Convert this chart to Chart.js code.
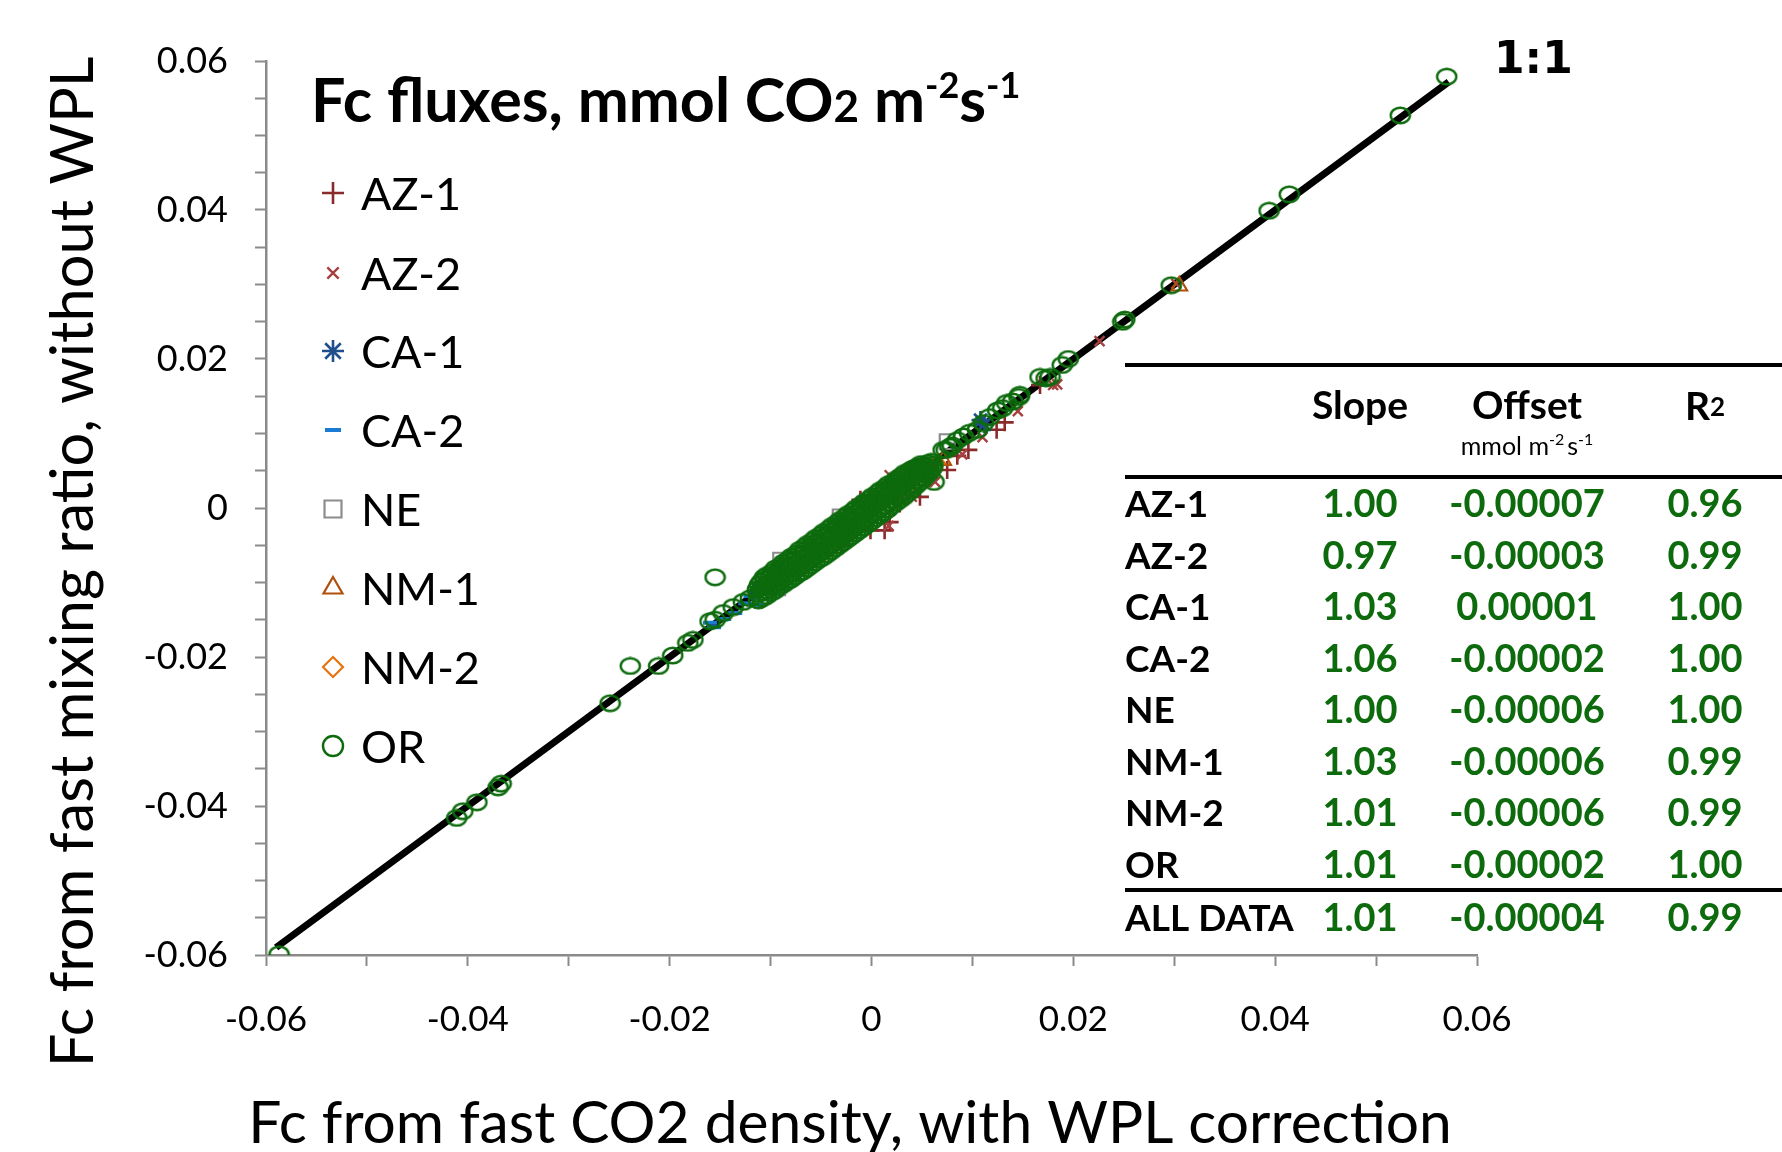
<!DOCTYPE html>
<html><head><meta charset="utf-8">
<script src="https://cdn.jsdelivr.net/npm/chart.js@4.4.1/dist/chart.umd.min.js"></script>
<style>html,body{margin:0;padding:0;background:#fff;} #wrap{width:1782px;height:1152px;position:relative;}</style>
</head><body><div id="wrap"><canvas id="c"></canvas></div>
<script>
// ---------- data ----------
const X_TICK_LABELS = ['-0.06','-0.04','-0.02','0','0.02','0.04','0.06'];
const Y_TICK_LABELS = ['-0.06','-0.04','-0.02','0','0.02','0.04','0.06'];
const ONE_TO_ONE = [-0.0590, 0.0572];

const AZ1 = [[-0.0029,-0.0050],[-0.0001,-0.0030],[0.0013,-0.0030],[-0.0008,0.0008],[0.0018,0.0034],[0.0035,0.0028],
  [0.0018,-0.0019],[0.0001,-0.0003],[-0.0011,0.0011],[0.0048,0.0015],[0.0075,0.0051],[0.0096,0.0078],[0.0124,0.0105],
  [0.0132,0.0115],[0.0167,0.0165],[-0.0050,-0.0062],[-0.0065,-0.0072],[0.0028,0.0006],[0.0058,0.0040],[0.0085,0.0070]];
const AZ2 = [[0.0226,0.0224],[0.0184,0.0166],[0.0302,0.0301],[0.0017,-0.0024],[0.0110,0.0095],[0.0145,0.0130],
  [0.0180,0.0165],[0.0040,0.0015],[-0.0020,-0.0035],[0.0063,0.0035],[0.0018,0.0044],[0.0090,0.0072],[-0.0040,-0.0046],[0.0030,0.0012]];
const CA1 = [[0.0108,0.0118],[0.0112,0.0112],[-0.0030,-0.0020],[-0.0090,-0.0088],[0.0050,0.0055],[-0.0060,-0.0054],[0.0000,0.0006],[-0.0115,-0.0112]];
const CA2 = [[-0.0160,-0.0154],[-0.0113,-0.0130],[-0.0146,-0.0149],[-0.0125,-0.0128],[-0.0135,-0.0141],[-0.0100,-0.0105],
  [-0.0050,-0.0050],[-0.0156,-0.0160],[-0.0120,-0.0118]];
const NE = [[-0.0090,-0.0070],[-0.0093,-0.0107],[-0.0031,-0.0012],[0.0075,0.0089],[-0.0050,-0.0046],[0.0020,0.0021],[-0.0075,-0.0081]];
const NM1 = [[0.0071,0.0064],[0.0060,0.0050],[0.0020,0.0015],[-0.0020,-0.0026],[0.0305,0.0298],[-0.0060,-0.0063]];
const NM2 = [[0.0065,0.0060],[0.0040,0.0035],[-0.0010,-0.0013],[-0.0070,-0.0068],[0.0052,0.0049]];
const OR = [
  [0.0570,0.0579],[0.0524,0.0527],[0.0414,0.0421],[0.0394,0.0399],[0.0297,0.0299],[0.0251,0.0253],[0.0249,0.0250],
  [0.0195,0.0200],[0.0189,0.0192],[0.0173,0.0174],[0.0177,0.0176],[0.0167,0.0176],[0.0147,0.0152],[0.0146,0.0149],
  [0.0140,0.0143],[0.0134,0.0141],[0.0130,0.0134],[0.0125,0.0131],[0.0117,0.0122],[0.0111,0.0114],[0.0105,0.0105],
  [0.0097,0.0101],[0.0091,0.0096],[0.0085,0.0091],[0.0080,0.0084],[0.0078,0.0082],[0.0074,0.0078],[0.0071,0.0078],
  [0.0062,0.0035],
  [-0.0155,-0.0093],[-0.0160,-0.0152],[-0.0155,-0.0150],[-0.0147,-0.0141],[-0.0137,-0.0133],[-0.0127,-0.0126],[-0.0120,-0.0121],
  [-0.0239,-0.0212],[-0.0211,-0.0212],[-0.0197,-0.0198],[-0.0182,-0.0181],[-0.0177,-0.0177],[-0.0259,-0.0262],
  [-0.0367,-0.0370],[-0.0370,-0.0375],[-0.0391,-0.0395],[-0.0405,-0.0407],[-0.0411,-0.0416],[-0.0587,-0.0599],
  [-0.0112,-0.0124],[-0.0112,-0.0115],[-0.0113,-0.0109],[-0.0111,-0.0103],
  [-0.0108,-0.0121],[-0.0107,-0.0113],[-0.0108,-0.0106],[-0.0109,-0.0099],[-0.0106,-0.0093],
  [-0.0104,-0.0118],[-0.0103,-0.0111],[-0.0104,-0.0103],[-0.0105,-0.0096],[-0.0103,-0.0090],
  [-0.0100,-0.0114],[-0.0099,-0.0106],[-0.0101,-0.0100],[-0.0100,-0.0093],[-0.0098,-0.0086],
  [-0.0096,-0.0111],[-0.0095,-0.0103],[-0.0096,-0.0095],[-0.0097,-0.0089],[-0.0095,-0.0081],
  [-0.0092,-0.0106],[-0.0091,-0.0099],[-0.0093,-0.0092],[-0.0092,-0.0085],[-0.0090,-0.0078],
  [-0.0088,-0.0103],[-0.0087,-0.0095],[-0.0088,-0.0087],[-0.0089,-0.0081],[-0.0087,-0.0073],
  [-0.0084,-0.0099],[-0.0083,-0.0091],[-0.0085,-0.0084],[-0.0084,-0.0077],[-0.0082,-0.0069],
  [-0.0080,-0.0096],[-0.0079,-0.0088],[-0.0080,-0.0080],[-0.0081,-0.0072],[-0.0079,-0.0065],
  [-0.0076,-0.0092],[-0.0075,-0.0083],[-0.0077,-0.0076],[-0.0076,-0.0069],[-0.0074,-0.0061],
  [-0.0072,-0.0088],[-0.0071,-0.0080],[-0.0072,-0.0072],[-0.0073,-0.0064],[-0.0071,-0.0056],
  [-0.0068,-0.0085],[-0.0067,-0.0076],[-0.0069,-0.0068],[-0.0068,-0.0061],[-0.0066,-0.0052],
  [-0.0064,-0.0081],[-0.0063,-0.0072],[-0.0064,-0.0064],[-0.0065,-0.0056],[-0.0063,-0.0048],
  [-0.0060,-0.0077],[-0.0059,-0.0068],[-0.0061,-0.0061],[-0.0060,-0.0052],[-0.0058,-0.0044],
  [-0.0056,-0.0073],[-0.0055,-0.0065],[-0.0056,-0.0056],[-0.0057,-0.0048],[-0.0055,-0.0040],
  [-0.0052,-0.0069],[-0.0051,-0.0060],[-0.0053,-0.0052],[-0.0052,-0.0045],[-0.0050,-0.0036],
  [-0.0048,-0.0066],[-0.0047,-0.0057],[-0.0048,-0.0049],[-0.0049,-0.0040],[-0.0047,-0.0032],
  [-0.0044,-0.0062],[-0.0043,-0.0053],[-0.0045,-0.0044],[-0.0044,-0.0036],[-0.0042,-0.0028],
  [-0.0040,-0.0058],[-0.0039,-0.0049],[-0.0040,-0.0041],[-0.0041,-0.0032],[-0.0039,-0.0024],
  [-0.0036,-0.0054],[-0.0035,-0.0045],[-0.0037,-0.0036],[-0.0036,-0.0028],[-0.0034,-0.0020],
  [-0.0032,-0.0050],[-0.0031,-0.0041],[-0.0032,-0.0033],[-0.0033,-0.0024],[-0.0031,-0.0016],
  [-0.0028,-0.0046],[-0.0027,-0.0037],[-0.0029,-0.0028],[-0.0028,-0.0020],[-0.0026,-0.0012],
  [-0.0024,-0.0042],[-0.0023,-0.0033],[-0.0024,-0.0025],[-0.0025,-0.0016],[-0.0023,-0.0008],
  [-0.0020,-0.0038],[-0.0019,-0.0029],[-0.0021,-0.0020],[-0.0020,-0.0012],[-0.0018,-0.0004],
  [-0.0016,-0.0034],[-0.0015,-0.0025],[-0.0016,-0.0017],[-0.0017,-0.0008],[-0.0015,0.0000],
  [-0.0012,-0.0030],[-0.0011,-0.0021],[-0.0013,-0.0012],[-0.0012,-0.0004],[-0.0010,0.0004],
  [-0.0008,-0.0026],[-0.0007,-0.0017],[-0.0008,-0.0009],[-0.0009,0.0000],[-0.0007,0.0008],
  [-0.0004,-0.0022],[-0.0003,-0.0013],[-0.0005,-0.0004],[-0.0004,0.0004],[-0.0002,0.0012],
  [0.0000,-0.0018],[0.0001,-0.0009],[0.0000,0.0000],[-0.0001,0.0008],[0.0001,0.0016],
  [0.0004,-0.0014],[0.0005,-0.0005],[0.0003,0.0004],[0.0004,0.0012],[0.0006,0.0020],
  [0.0008,-0.0010],[0.0009,-0.0001],[0.0008,0.0008],[0.0007,0.0016],[0.0009,0.0024],
  [0.0012,-0.0006],[0.0013,0.0003],[0.0011,0.0012],[0.0012,0.0020],[0.0014,0.0028],
  [0.0016,-0.0002],[0.0017,0.0007],[0.0016,0.0016],[0.0015,0.0024],[0.0017,0.0032],
  [0.0020,0.0003],[0.0021,0.0011],[0.0019,0.0020],[0.0020,0.0028],[0.0022,0.0035],
  [0.0024,0.0007],[0.0025,0.0015],[0.0024,0.0024],[0.0023,0.0032],[0.0025,0.0039],
  [0.0028,0.0011],[0.0029,0.0019],[0.0027,0.0028],[0.0028,0.0036],[0.0030,0.0043],
  [0.0032,0.0015],[0.0033,0.0023],[0.0032,0.0032],[0.0031,0.0040],[0.0033,0.0047],
  [0.0036,0.0020],[0.0037,0.0028],[0.0035,0.0036],[0.0036,0.0043],[0.0038,0.0050],
  [0.0040,0.0025],[0.0041,0.0032],[0.0040,0.0040],[0.0039,0.0047],[0.0041,0.0053],
  [0.0044,0.0030],[0.0045,0.0037],[0.0043,0.0044],[0.0044,0.0050],[0.0046,0.0056],
  [0.0048,0.0035],[0.0049,0.0041],[0.0048,0.0048],[0.0047,0.0054],[0.0049,0.0059],
  [0.0052,0.0040],[0.0053,0.0046],[0.0051,0.0052],[0.0052,0.0057],
  [0.0056,0.0046],[0.0057,0.0051],[0.0055,0.0056],[0.0056,0.0060],
  [0.0060,0.0053],[0.0061,0.0058],[0.0059,0.0062]
];

const SITES   = ['AZ-1','AZ-2','CA-1','CA-2','NE','NM-1','NM-2','OR'];
const TABLE_ROWS = ['AZ-1','AZ-2','CA-1','CA-2','NE','NM-1','NM-2','OR','ALL DATA'];
const SLOPES  = ['1.00','0.97','1.03','1.06','1.00','1.03','1.01','1.01','1.01'];
const OFFSETS = ['-0.00007','-0.00003','0.00001','-0.00002','-0.00006','-0.00006','-0.00006','-0.00002','-0.00004'];
const R2      = ['0.96','0.99','1.00','1.00','1.00','0.99','0.99','1.00','0.99'];

// ---------- styles ----------
const GREEN = '#0d6b0d';
const FONT = 'Lato, "Open Sans", sans-serif';
function ellipseMarker(color){
  const c = document.createElement('canvas');
  c.width = 23; c.height = 19;
  const g = c.getContext('2d');
  g.strokeStyle = color; g.lineWidth = 2.4;
  g.beginPath(); g.ellipse(11.5, 9.5, 9.6, 7.8, 0, 0, Math.PI*2); g.stroke();
  return c;
}
const OR_MARK = ellipseMarker(GREEN);

const toPts = a => a.map(p => ({x:p[0], y:p[1]}));
const STYLES = [
  {label:'AZ-1', data:AZ1, color:'#8a2a2a', pointStyle:'cross',    radius:9,  bw:2.6, lr:11, order:8},
  {label:'AZ-2', data:AZ2, color:'#a64040', pointStyle:'crossRot', radius:7,  bw:2.4, lr:8,  order:7},
  {label:'CA-1', data:CA1, color:'#1f4e8c', pointStyle:'star',     radius:9,  bw:2.6, lr:11, order:6},
  {label:'CA-2', data:CA2, color:'#1a7bd4', pointStyle:'line',     radius:7,  bw:4,   lr:8,  order:5},
  {label:'NE',   data:NE,  color:'#8c8c8c', pointStyle:'rect',     radius:10.5, bw:2.2, lr:12, order:4},
  {label:'NM-1', data:NM1, color:'#b0500c', pointStyle:'triangle', radius:9,  bw:2.2, lr:11, order:3},
  {label:'NM-2', data:NM2, color:'#e8730e', pointStyle:'rectRot',  radius:8,  bw:2.2, lr:10, order:2},
  {label:'OR',   data:OR,  color:GREEN,     pointStyle:OR_MARK,    radius:9,  bw:2.4, lr:10, order:1}
];

const datasets = STYLES.map(s => ({
  type:'scatter', label:s.label, data:toPts(s.data), order:s.order,
  pointStyle:s.pointStyle, pointRadius:s.radius, pointBorderWidth:s.bw,
  pointBorderColor:s.color, pointBackgroundColor:'rgba(0,0,0,0)', showLine:false
}));
datasets.push({
  type:'line', label:'1:1', order:9,
  data:[{x:ONE_TO_ONE[0], y:ONE_TO_ONE[0]},{x:ONE_TO_ONE[1], y:ONE_TO_ONE[1]}],
  borderColor:'#000', borderWidth:7, pointRadius:0, fill:false, borderCapStyle:'butt'
});

function drawRich(ctx, parts, x, y, align){
  let total = 0;
  parts.forEach(p => { ctx.font = `${p.w||'normal'} ${p.s}px ${p.f||FONT}`; p._w = ctx.measureText(p.t).width + (p.gap||0); total += p._w; });
  let cx = align === 'center' ? x - total/2 : (align === 'right' ? x - total : x);
  ctx.textAlign = 'left'; ctx.textBaseline = 'alphabetic';
  parts.forEach(p => { ctx.font = `${p.w||'normal'} ${p.s}px ${p.f||FONT}`; ctx.fillText(p.t, cx, y + (p.dy||0)); cx += p._w; });
}
function fitText(ctx, text, weight, target){
  ctx.font = `${weight} 50px ${FONT}`;
  const w = ctx.measureText(text).width;
  return 50 * target / w;
}

const overlay = {
  id:'overlay',
  afterDraw(chart){
    const ctx = chart.ctx;
    ctx.save();
    ctx.fillStyle = '#000';
    // title
    drawRich(ctx, [
      {t:'Fc fluxes, mmol CO', s:61, w:'bold'},
      {t:'2', s:44, w:'bold'},
      {t:' m', s:61, w:'bold'},
      {t:'-2', s:36, w:'bold', dy:-24},
      {t:'s', s:61, w:'bold'},
      {t:'-1', s:36, w:'bold', dy:-24}
    ], 311, 122, 'left');
    // 1:1
    ctx.font = 'bold 44px "DejaVu Sans", sans-serif';
    ctx.textAlign = 'left'; ctx.textBaseline = 'alphabetic';
    ctx.fillText('1:1', 1494, 73);
    // legend
    const ly = [193, 273, 351, 430, 509, 588, 667, 746];
    STYLES.forEach((s, i) => {
      ctx.strokeStyle = s.color; ctx.fillStyle = 'rgba(0,0,0,0)';
      let ps = s.pointStyle === OR_MARK ? 'circle' : s.pointStyle;
      ctx.lineWidth = s.bw;
      Chart.helpers.drawPoint(ctx, {pointStyle:ps, radius:s.lr, borderWidth:s.bw, rotation:0}, 333, ly[i]);
      ctx.fillStyle = '#000';
      ctx.font = `normal 45px ${FONT}`;
      ctx.textAlign = 'left'; ctx.textBaseline = 'middle';
      ctx.fillText(SITES[i], 361, ly[i] + 2);
    });
    // axis titles
    ctx.fillStyle = '#000';
    const ys = fitText(ctx, 'Fc from fast mixing ratio, without WPL', 'normal', 1011);
    ctx.save();
    ctx.translate(74, 562); ctx.rotate(-Math.PI/2);
    ctx.font = `normal ${ys}px ${FONT}`; ctx.textAlign='center'; ctx.textBaseline='middle';
    ctx.fillText('Fc from fast mixing ratio, without WPL', 0, 0);
    ctx.restore();
    const xs = fitText(ctx, 'Fc from fast CO2 density, with WPL correction', 'normal', 1204);
    ctx.font = `normal ${xs}px ${FONT}`; ctx.textAlign='center'; ctx.textBaseline='middle';
    ctx.fillText('Fc from fast CO2 density, with WPL correction', 850, 1124);
    // table
    ctx.strokeStyle = '#000'; ctx.lineWidth = 4;
    [365, 477, 890].forEach(y => { ctx.beginPath(); ctx.moveTo(1125, y); ctx.lineTo(1782, y); ctx.stroke(); });
    ctx.fillStyle = '#000';
    ctx.font = `bold 39px ${FONT}`; ctx.textAlign='center'; ctx.textBaseline='middle';
    ctx.fillText('Slope', 1360, 406);
    ctx.fillText('Offset', 1527, 406);
    drawRich(ctx, [{t:'R', s:39, w:'bold'},{t:'2', s:26, w:'bold', dy:-4}], 1705, 420, 'center');
    drawRich(ctx, [
      {t:'mmol m', s:25}, {t:'-2', s:16, dy:-10, gap:3}, {t:'s', s:25}, {t:'-1', s:16, dy:-10}
    ], 1527, 455, 'center');
    const rowY = [505, 557, 608, 660, 711, 763, 814, 866, 919];
    TABLE_ROWS.forEach((r, i) => {
      ctx.fillStyle = '#000';
      ctx.font = `bold 37px ${FONT}`; ctx.textAlign='left'; ctx.textBaseline='middle';
      ctx.fillText(r, 1125, rowY[i]);
      ctx.fillStyle = GREEN; ctx.font = `bold 38px ${FONT}`; ctx.textAlign='center';
      ctx.fillText(SLOPES[i], 1360, rowY[i]);
      ctx.fillText(OFFSETS[i], 1527, rowY[i]);
      ctx.fillText(R2[i], 1705, rowY[i]);
    });
    ctx.restore();
  }
};

function fmtTick(v, every){
  const k = Math.round(v * 1000);
  if (k % every !== 0) return '';
  if (k === 0) return '0';
  return (k/1000).toFixed(2);
}

const axisCommon = {
  type:'linear', min:-0.06, max:0.06,
  grid:{ drawOnChartArea:false, drawTicks:true, tickLength:11, tickColor:'#8a8a8a', tickWidth:2 },
  border:{ color:'#8a8a8a', width:2.5 },
};

new Chart(document.getElementById('c'), {
  data:{ datasets },
  options:{
    responsive:true, maintainAspectRatio:false, devicePixelRatio:1, animation:false,
    layout:{ padding:{ left:0, top:61, right:305, bottom:0 } },
    plugins:{ legend:{display:false}, tooltip:{enabled:false}, title:{display:false} },
    scales:{
      x:{ ...axisCommon, position:'bottom',
        ticks:{ stepSize:0.01, autoSkip:false, maxRotation:0, padding:33, color:'#000',
          font:{ family:FONT, size:35 }, callback:(v)=>fmtTick(v, 20) },
        afterFit:(s)=>{ s.height = 197; } },
      y:{ ...axisCommon, position:'left',
        ticks:{ stepSize:0.005, autoSkip:false, padding:27, color:'#000',
          font:{ family:FONT, size:36 }, callback:(v)=>fmtTick(v, 20) },
        afterFit:(s)=>{ s.width = 266; } }
    }
  },
  plugins:[overlay]
});
</script></body></html>
